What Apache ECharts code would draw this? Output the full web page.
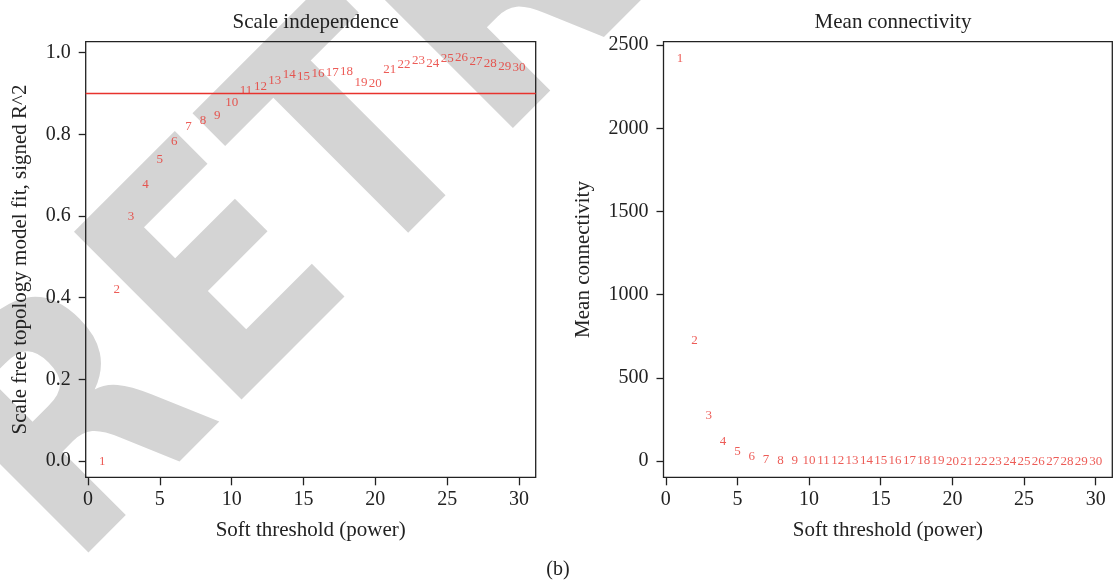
<!DOCTYPE html>
<html>
<head>
<meta charset="utf-8">
<script src="https://cdn.jsdelivr.net/npm/echarts@6/dist/echarts.min.js"></script>
<style>html,body{margin:0;padding:0;background:#fff;}#c{width:1113px;height:586px;}</style>
</head>
<body>
<div id="c"></div>
<script>
// Soft-threshold powers
var powers = [1,2,3,4,5,6,7,8,9,10,11,12,13,14,15,16,17,18,19,20,21,22,23,24,25,26,27,28,29,30];
// Scale free topology model fit, signed R^2
var fitR2 = [0.000,0.419,0.599,0.676,0.739,0.782,0.818,0.833,0.845,0.878,0.907,0.916,0.931,0.946,0.942,
             0.948,0.951,0.955,0.927,0.925,0.958,0.970,0.981,0.973,0.985,0.987,0.979,0.973,0.965,0.963];
// Mean connectivity
var meanK = [2418,725,275,117,56,28,10,6,4,2.5,1.8,1.4,1.1,0.9,0.8,0.7,0.6,0.5,0.5,0.4,0.4,0.3,0.3,0.3,0.2,0.2,0.2,0.2,0.1,0.1];
var xTicks = [0,5,10,15,20,25,30];
var yTicksFit = [0,0.2,0.4,0.6,0.8,1.0];
var yTicksK = [0,500,1000,1500,2000,2500];
var cutoff = 0.9;

var SERIF = '"Liberation Serif", "DejaVu Serif", serif';
var RED = '#e8332d';
var INK = '#222';

function pairs(xs, ys){ return xs.map(function(x,i){ return [x, ys[i]]; }); }

function xAx(idx){
  return {
    type:'value', gridIndex:idx, min:-0.16, max:31.16,
    name:'Soft threshold (power)', nameLocation:'middle', nameGap:43,
    nameTextStyle:{fontFamily:SERIF, fontSize:21, color:INK},
    axisLine:{show:false, onZero:false}, splitLine:{show:false},
    axisTick:{show:true, inside:false, customValues:xTicks, length:8, lineStyle:{color:INK, width:1.3}},
    axisLabel:{customValues:xTicks, fontFamily:SERIF, fontSize:20, color:INK, margin:12}
  };
}
function yAx(idx, min, max, ticks, name, gap, fmt){
  return {
    type:'value', gridIndex:idx, min:min, max:max,
    name:name, nameLocation:'middle', nameGap:gap,
    nameTextStyle:{fontFamily:SERIF, fontSize:21, color:INK},
    axisLine:{show:false, onZero:false}, splitLine:{show:false},
    axisTick:{show:true, inside:false, customValues:ticks, length:7, lineStyle:{color:INK, width:1.3}},
    axisLabel:{customValues:ticks, fontFamily:SERIF, fontSize:20, color:INK, margin:15, formatter:fmt}
  };
}
function labelSeries(idx, data){
  return {
    type:'scatter', xAxisIndex:idx, yAxisIndex:idx, data:data,
    symbol:'circle', symbolSize:1, itemStyle:{color:'rgba(0,0,0,0)'},
    silent:true, animation:false,
    label:{show:true, position:'inside', color:RED, fontFamily:SERIF, fontSize:13,
      formatter:function(p){ return String(p.value[0]); }}
  };
}

var chart = echarts.init(document.getElementById('c'), null, {renderer:'canvas'});
var s1 = labelSeries(0, pairs(powers, fitR2));
s1.markLine = {silent:true, symbol:['none','none'], label:{show:false},
  lineStyle:{color:RED, width:1.3, type:'solid'}, animation:false, data:[{yAxis:cutoff}]};

chart.setOption({
  animation:false,
  backgroundColor:'#fff',
  title:[
    {text:'Scale independence', left:310.7, top:7, textAlign:'center',
     textStyle:{fontFamily:SERIF, fontSize:21, fontWeight:'normal', color:INK}},
    {text:'Mean connectivity', left:888, top:7, textAlign:'center',
     textStyle:{fontFamily:SERIF, fontSize:21, fontWeight:'normal', color:INK}}
  ],
  grid:[
    {left:85.7, top:41.7, width:450, height:435.6, show:true, borderColor:INK, borderWidth:1.3, backgroundColor:'rgba(0,0,0,0)', outerBoundsMode:'none'},
    {left:663.5, top:41.7, width:448.8, height:435.6, show:true, borderColor:INK, borderWidth:1.3, backgroundColor:'rgba(0,0,0,0)', outerBoundsMode:'none'}
  ],
  xAxis:[xAx(0), xAx(1)],
  yAxis:[
    yAx(0, -0.0397, 1.027, yTicksFit, 'Scale free topology model fit, signed R^2', 55, function(v){ return v.toFixed(1); }),
    yAx(1, -97, 2520, yTicksK, 'Mean connectivity', 70, function(v){ return String(v); })
  ],
  graphic:[
    {type:'text', zlevel:-1, z:-100, x:10.5, y:511, rotation:Math.PI/4, scaleX:0.865, scaleY:1,
     style:{text:'RETRACTED', font:'bold 325px "DejaVu Sans", sans-serif', fill:'#d4d4d4',
            align:'left', verticalAlign:'middle'}},
    {type:'text', x:558, y:570, style:{text:'(b)', font:'20px "Liberation Serif", serif', fill:INK,
            align:'center', verticalAlign:'middle'}}
  ],
  series:[s1, labelSeries(1, pairs(powers, meanK))]
});
</script>
</body>
</html>
